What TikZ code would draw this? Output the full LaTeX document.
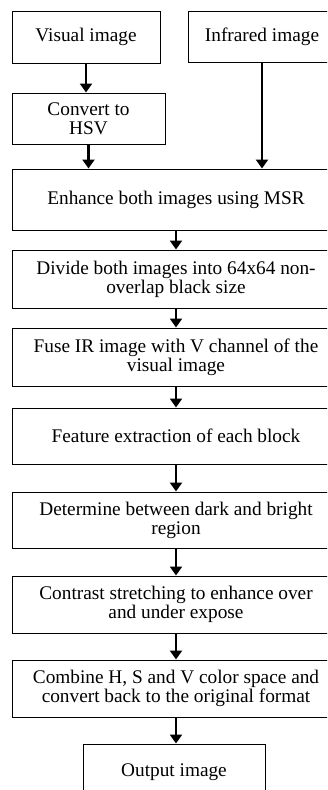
\documentclass[tikz,border=0pt]{standalone}
\usepackage{fontspec}
\setmainfont{Liberation Serif}
\usetikzlibrary{arrows.meta}
\begin{document}
\begin{tikzpicture}[x=1pt,y=-1pt,
    box/.style={draw,line width=1pt,inner sep=0pt,align=center,
      font=\fontsize{19.3}{19}\selectfont},
    arr/.style={line width=2.3pt,-{Triangle[length=9pt,width=12pt]}}]
  \useasboundingbox (0,0) rectangle (327,790);
  \clip (0,0) rectangle (327,790);

  % inputs
  \node[box,minimum width=148,minimum height=52] (vis) at (86,37) {Visual image};
  \node[box,minimum width=148,minimum height=51] (ir) at (262,36.5) {Infrared image};
  \node[box,minimum width=153,minimum height=51] (hsv) at (88.5,118.5) {Convert to\\HSV};

  % main chain
  \node[box,minimum width=328,minimum height=61] (msr) at (176,199.5) {Enhance both images using MSR};
  \node[box,minimum width=328,minimum height=58] (div) at (176,279) {Divide both images into 64x64 non-\\overlap black size};
  \node[box,minimum width=328,minimum height=58] (fuse) at (176,357) {Fuse IR image with V channel of the\\visual image};
  \node[box,minimum width=328,minimum height=56] (feat) at (176,436) {Feature extraction of each block};
  \node[box,minimum width=328,minimum height=56] (det) at (176,520) {Determine between dark and bright\\region};
  \node[box,minimum width=328,minimum height=57] (con) at (176,604.5) {Contrast stretching to enhance over\\and under expose};
  \node[box,minimum width=328,minimum height=57] (comb) at (176,688.5) {Combine H, S and V color space and\\convert back to the original format};
  \node[box,minimum width=182,minimum height=56] (out) at (174,772) {Output image};

  % arrows
  \draw[arr] (vis.south) -- (vis.south |- hsv.north);
  \draw[arr] (hsv.south) -- (hsv.south |- msr.north);
  \draw[arr] (ir.south) -- (ir.south |- msr.north);
  \draw[arr] (msr) -- (div);
  \draw[arr] (div) -- (fuse);
  \draw[arr] (fuse) -- (feat);
  \draw[arr] (feat) -- (det);
  \draw[arr] (det) -- (con);
  \draw[arr] (con) -- (comb);
  \draw[arr] (comb.south) -- (comb.south |- out.north);
\end{tikzpicture}
\end{document}
